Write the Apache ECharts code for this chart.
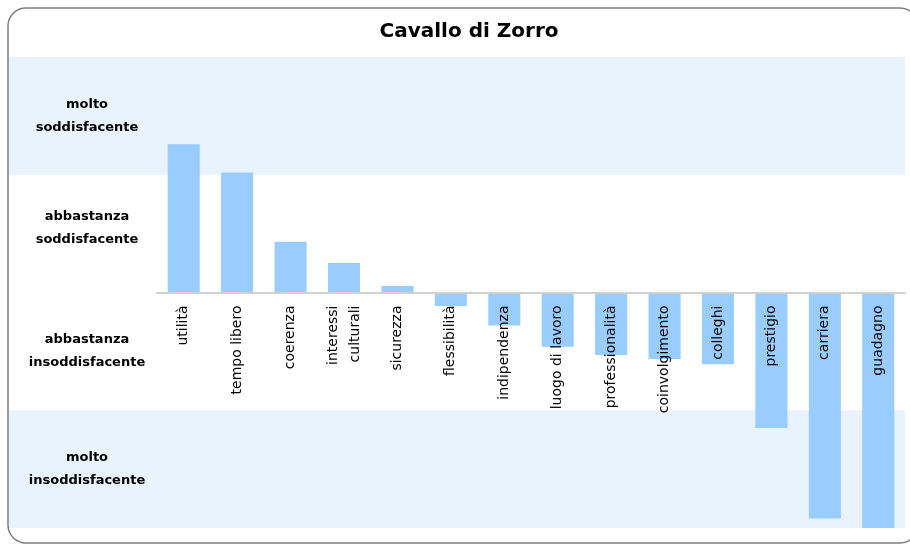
<!DOCTYPE html>
<html><head><meta charset="utf-8">
<script src="https://cdn.jsdelivr.net/npm/echarts@6/dist/echarts.min.js"></script>
<style>html,body{margin:0;padding:0;background:#fff}#c{width:910px;height:544px}</style>
</head><body><div id="c"></div>
<script>
const title = 'Cavallo di Zorro';
const categories = ['utilità','tempo libero','coerenza','interessi\nculturali','sicurezza','flessibilità','indipendenza','luogo di lavoro','professionalità','coinvolgimento','colleghi','prestigio','carriera','guadagno'];
const values = [1.26, 1.02, 0.43, 0.25, 0.055, -0.115, -0.28, -0.46, -0.53, -0.565, -0.61, -1.15, -1.92, -2.0];
const bandLabels = ['molto\ninsoddisfacente','abbastanza\ninsoddisfacente','abbastanza\nsoddisfacente','molto\nsoddisfacente'];
const yMin = -2, yMax = 2;

const labelFont = {color:'#000', fontFamily:'DejaVu Sans', fontWeight:'bold', fontSize:13, lineHeight:23};
const chart = echarts.init(document.getElementById('c'), null, {renderer:'canvas'});
const option = {
  backgroundColor:'#fff',
  animation:false,
  title:{text:title, left:464, top:17, textAlign:'center',
    textStyle:{fontFamily:'DejaVu Sans', fontWeight:'bold', fontSize:20, color:'#000'}},
  graphic:[{type:'rect', shape:{x:8,y:8,width:910,height:535,r:18},
    style:{fill:'none', stroke:'#7f7f7f', lineWidth:1.5}, z:100}],
  grid:[
    {left:8, right:5, top:57, bottom:16, outerBoundsMode:'none', containLabel:false},
    {left:157, right:5, top:57, bottom:16, outerBoundsMode:'none', containLabel:false}
  ],
  xAxis:[
    {gridIndex:0, type:'value', show:false},
    {gridIndex:1, type:'category', data:categories, z:10, offset:0,
      axisTick:{show:false},
      axisLine:{onZero:false, lineStyle:{color:'#d0d0d0', width:2}},
      axisLabel:{rotate:90, interval:0, margin:13, color:'#000', fontFamily:'DejaVu Sans', fontSize:14, lineHeight:22}}
  ],
  yAxis:[
    {gridIndex:0, type:'category', data:bandLabels,
      axisLine:{show:false}, axisTick:{show:false}, splitLine:{show:false},
      splitArea:{show:true, areaStyle:{color:['#e8f3fe','#ffffff','#ffffff','#e8f3fe']}},
      axisLabel:Object.assign({inside:true, align:'center', margin:79,
        formatter:function(v, i){ return i === 2 ? '{up|' + v.split('\n').join('}\n{up|') + '}' : v; },
        rich:{up:Object.assign({padding:[0,0,12,0]}, labelFont)}}, labelFont)},
    {gridIndex:1, type:'value', min:yMin, max:yMax, show:false, splitLine:{show:false}}
  ],
  series:[{
    type:'bar', xAxisIndex:1, yAxisIndex:1, data:values, barWidth:'60%',
    itemStyle:{color:'#99ccff'}
  }]
};
chart.setOption(option);
// move the category axis (line + labels) up to the zero value of the bar scale
const zeroY = chart.convertToPixel({yAxisIndex:1}, 0);
const bottomY = chart.convertToPixel({yAxisIndex:1}, yMin);
chart.setOption({xAxis:[{}, {offset: zeroY - bottomY}]});
</script></body></html>
